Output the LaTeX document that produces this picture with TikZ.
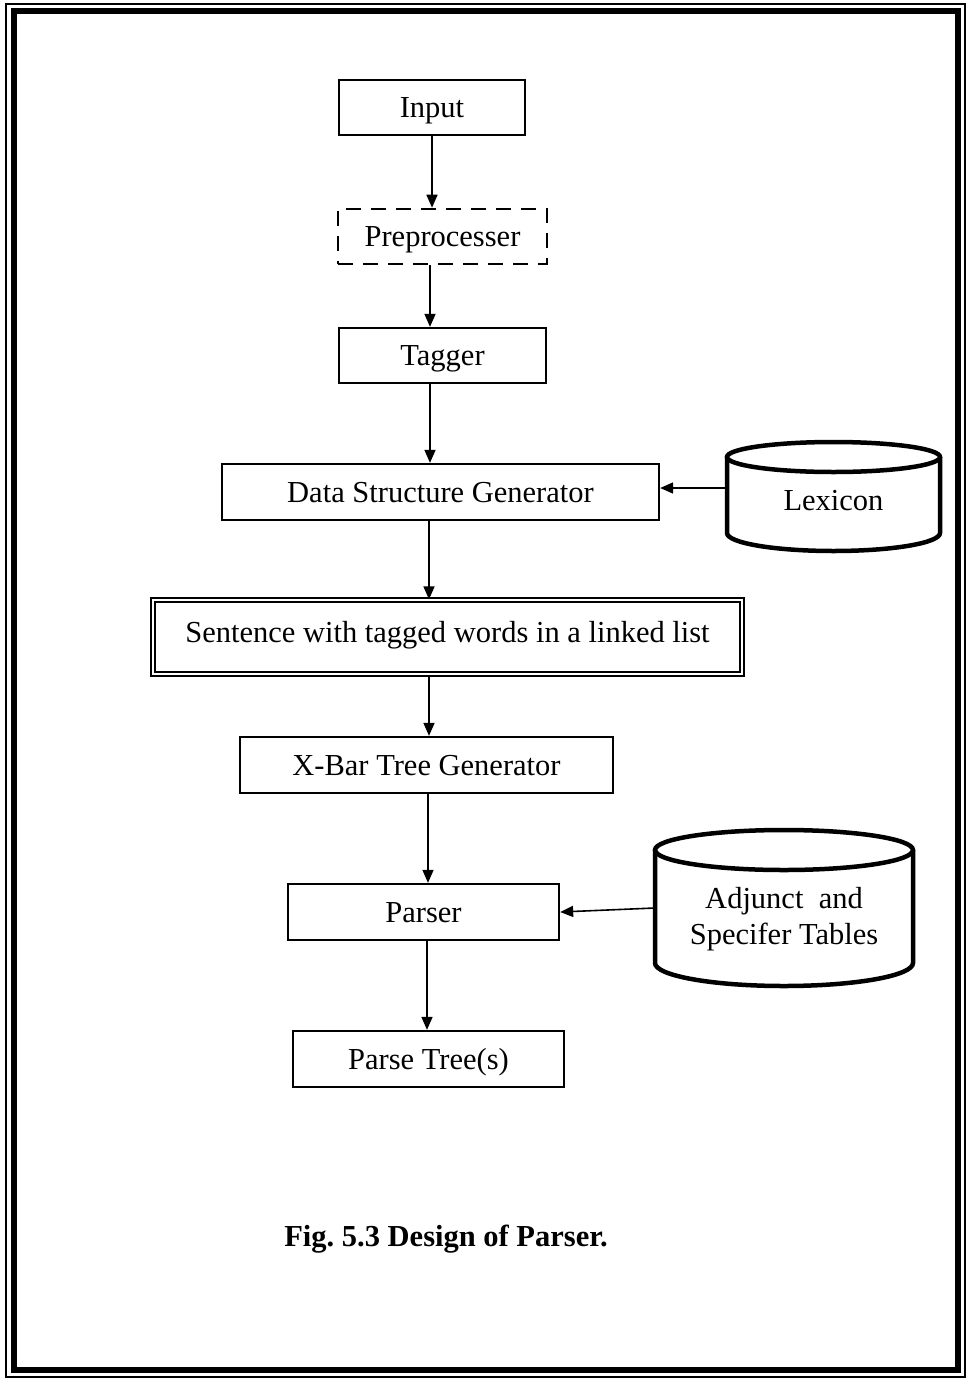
\documentclass[tikz,border=0pt]{standalone}
\usepackage{fontspec}
\setmainfont{Liberation Serif}
\usetikzlibrary{arrows.meta,calc}
\begin{document}
\begin{tikzpicture}[x=1pt,y=1pt,
  box/.style={draw,line width=2.3pt,minimum height=55,inner sep=0pt,
    text height=22pt,text depth=2pt,
    font=\fontsize{30.5}{35}\selectfont},
  dbox/.style={box,double,line width=1.3pt,double distance=2.6pt},
  dashbox/.style={box,line width=2.6pt,dash pattern=on 15pt off 10pt},
  cyltext/.style={inner sep=0pt,align=center,font=\fontsize{30.5}{36}\selectfont},
  cyl/.style={line width=4.5pt},
  flow/.style={line width=1.6pt,-{Triangle[length=13pt,width=11pt]}}]
\useasboundingbox (0,0) rectangle (971,-1379);
% page frame
\draw[line width=1.2pt] (6,-4) rectangle (965,-1377);
\draw[line width=6pt] (14,-11) rectangle (958,-1370);

% process boxes
\node[box,minimum width=186] (in) at (432,-107.5) {Input};
\node[dashbox,minimum width=209] (pre) at (442.5,-236.5) {Preprocesser};
\node[box,minimum width=207] (tag) at (442.5,-355.5) {Tagger};
\node[box,minimum width=437,minimum height=56] (dsg) at (440.5,-492) {Data Structure Generator};
\node[dbox,minimum width=589,minimum height=74,text height=17pt,text depth=7pt] (sen) at (447.5,-637) {Sentence with tagged words in a linked list};
\node[box,minimum width=373,minimum height=56] (xb) at (426.5,-765) {X-Bar Tree Generator};
\node[box,minimum width=271,minimum height=56] (par) at (423.5,-912) {Parser};
\node[box,minimum width=271,minimum height=56] (pt) at (428.5,-1059) {Parse Tree(s)};

% stores
\draw[cyl] (727,-457) -- (727,-533) arc[start angle=180,end angle=360,x radius=106.5,y radius=18] -- (940,-457);
\draw[cyl] (833.5,-457) ellipse[x radius=106.5,y radius=15];
\node[cyltext,minimum width=213,minimum height=76,text height=22pt,text depth=2pt] (lex) at (833.5,-500) {Lexicon};

\draw[cyl] (655,-850) -- (655,-963) arc[start angle=180,end angle=360,x radius=129,y radius=23] -- (913,-850);
\draw[cyl] (784,-850) ellipse[x radius=129,y radius=20];
\node[cyltext,minimum width=258,minimum height=113] (adj) at (784,-919) {Adjunct\ \ and\\Specifer Tables};

% connectors
\draw[flow] (in.south) -- (in.south |- pre.north);
\draw[flow] ([xshift=-12.5pt]pre.south) -- ([xshift=-12.5pt]pre.south |- tag.north);
\draw[flow] ([xshift=-12.5pt]tag.south) -- ([xshift=-12.5pt]tag.south |- dsg.north);
\draw[flow] ([xshift=-11.5pt]dsg.south) -- ([xshift=-11.5pt]dsg.south |- sen.north);
\draw[flow] ([xshift=-18.5pt]sen.south) -- ([xshift=-18.5pt]sen.south |- xb.north);
\draw[flow] ([xshift=1.5pt]xb.south) -- ([xshift=1.5pt]xb.south |- par.north);
\draw[flow] ([xshift=3.5pt]par.south) -- ([xshift=3.5pt]par.south |- pt.north);
\draw[flow] ([yshift=12pt]lex.west) -- ([yshift=12pt]lex.west -| dsg.east);
\draw[flow] ([yshift=11pt]adj.west) -- (par.east);

% caption
\node[inner sep=0pt,font=\bfseries\fontsize{30.5}{35}\selectfont] (cap) at (446,-1239) {Fig.\ 5.3 Design of Parser.};
\end{tikzpicture}
\end{document}
